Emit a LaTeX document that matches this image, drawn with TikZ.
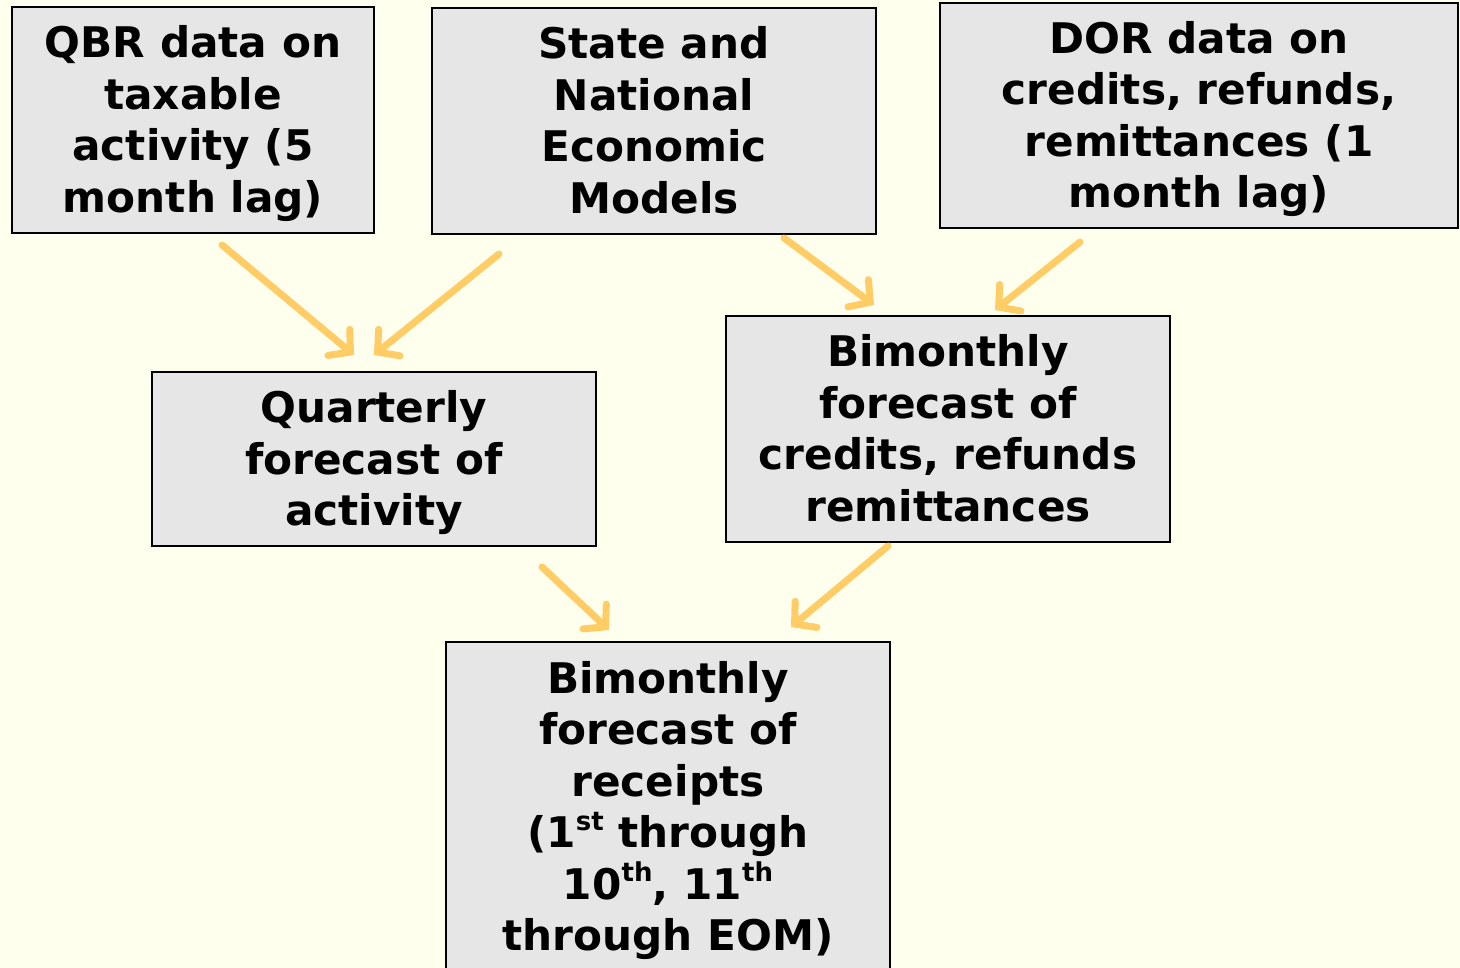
\documentclass[tikz,border=0pt]{standalone}
\usepackage{fontspec}
\setmainfont{DejaVu Sans}
\usetikzlibrary{arrows.meta}
\definecolor{bgc}{HTML}{FFFFEE}
\definecolor{boxc}{HTML}{E6E6E6}
\definecolor{arrc}{HTML}{FFCC66}
\newcommand{\supr}[1]{\raisebox{0.42em}{\fontsize{26}{26}\selectfont #1}}
\newcommand{\tst}{\rule{0pt}{1.0em}}
\newcommand{\tnd}{\rule[-0.28em]{0pt}{0pt}}
\tikzset{
  box/.style={draw=black, line width=2.2pt, fill=boxc, inner sep=0pt,
    align=center, font=\bfseries\fontsize{42.2}{51.5}\selectfont},
  flow/.style={draw=arrc, line width=7pt, line cap=round,
    -{Straight Barb[length=15pt,width=34pt,line cap=round]}}
}
\begin{document}
\begin{tikzpicture}[x=1pt,y=-1pt]
\useasboundingbox[fill=bgc] (0,0) rectangle (1460,968);
\node[box, minimum width=362pt, minimum height=226pt] (qbr) at (193,120)
  {\tst QBR data on\\taxable\\activity (5\\month lag)\tnd};
\node[box, minimum width=444pt, minimum height=226pt] (sne) at (654,121)
  {\tst State and\\National\\Economic\\Models\tnd};
\node[box, minimum width=518pt, minimum height=225pt] (dor) at (1199,115.5)
  {\tst DOR data on\\credits, refunds,\\remittances (1\\month lag)\tnd};
\node[box, minimum width=444pt, minimum height=174pt] (qfa) at (374,459)
  {\tst Quarterly\\forecast of\\activity\tnd};
\node[box, minimum width=444pt, minimum height=226pt] (bcr) at (948,429)
  {\tst Bimonthly\\forecast of\\credits, refunds\\remittances\tnd};
\node[box, minimum width=444pt, minimum height=330pt] (bfr) at (668,807)
  {\tst Bimonthly\\forecast of\\receipts\\(1\supr{st} through\\10\supr{th}, 11\supr{th}\\through EOM)\tnd};
\coordinate (a1s) at (222,245); \coordinate (a1e) at (354,355);
\coordinate (a2s) at (499,254); \coordinate (a2e) at (374,355);
\coordinate (a3s) at (784,238); \coordinate (a3e) at (874,305);
\coordinate (a4s) at (1080,242); \coordinate (a4e) at (995,310);
\coordinate (a5s) at (542,567); \coordinate (a5e) at (609,630);
\coordinate (a6s) at (888,546); \coordinate (a6e) at (791,627);
\draw[flow] (a1s) -- (a1e);
\draw[flow] (a2s) -- (a2e);
\draw[flow] (a3s) -- (a3e);
\draw[flow] (a4s) -- (a4e);
\draw[flow] (a5s) -- (a5e);
\draw[flow] (a6s) -- (a6e);
\end{tikzpicture}
\end{document}
